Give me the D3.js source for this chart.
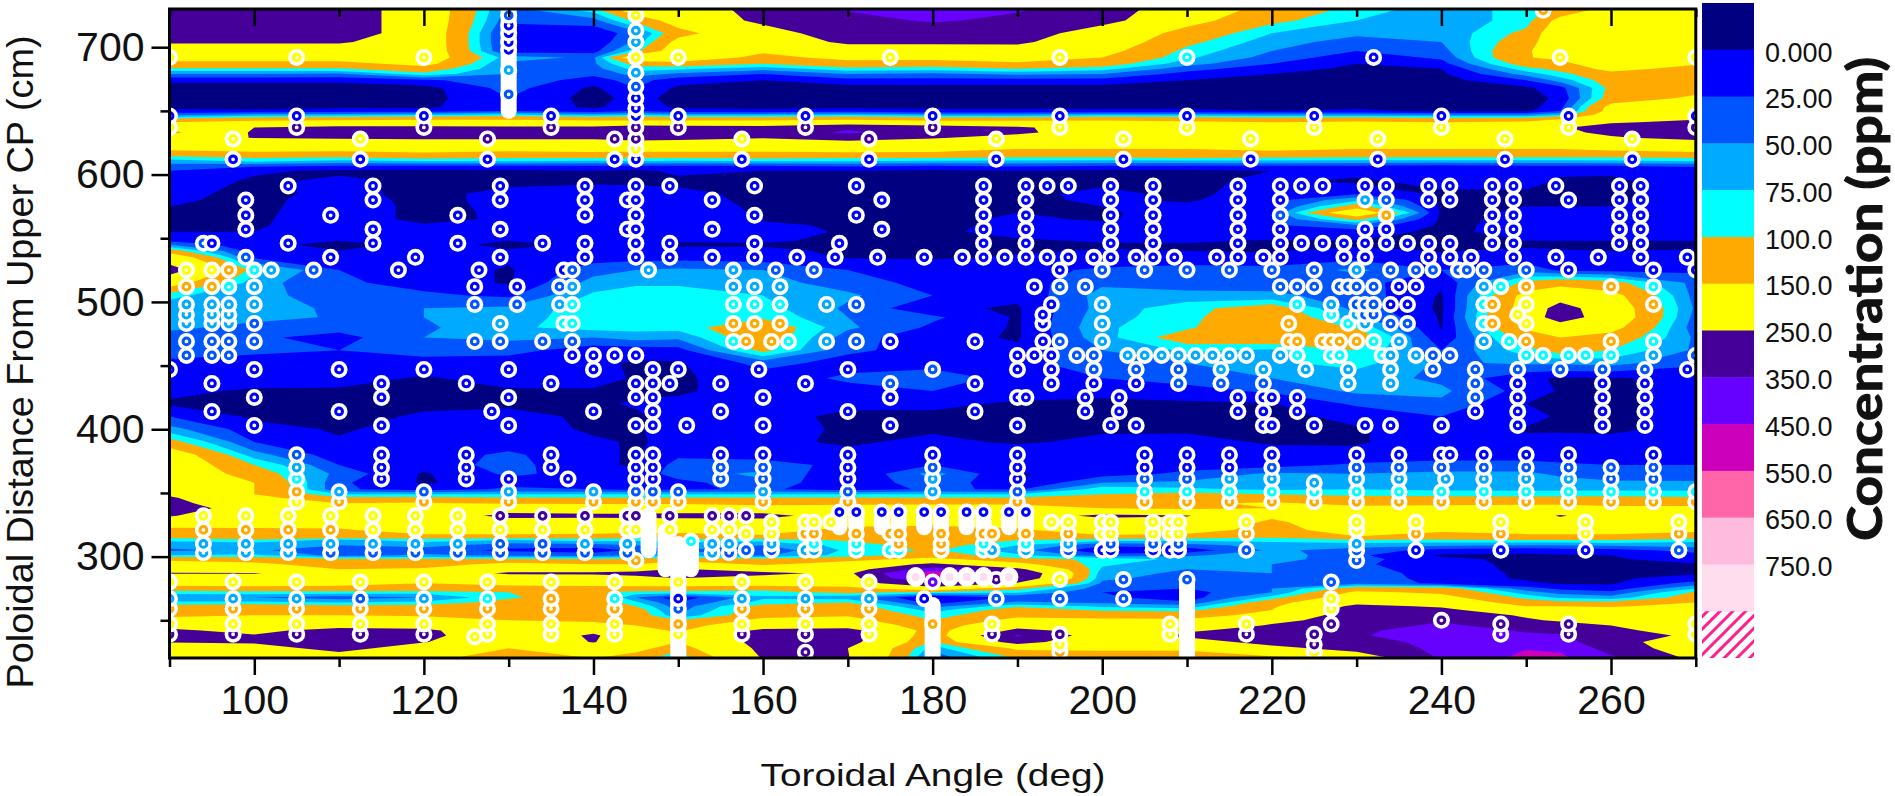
<!DOCTYPE html>
<html>
	<head>
		<meta charset="UTF-8" />
		<title>Concentration contour map</title>
		<script src="https://d3js.org/d3.v7.min.js"></script>
		<style>
			body { margin: 0; background: #fff; }
			text { font-family: "Liberation Sans", Arial, sans-serif; fill: #111; }
		</style>
	</head>
	<body>
		<svg id="chart" width="1895" height="796"></svg>
		<script type="text/javascript" charset="utf-8">
			const levels = [0, 25, 50, 75, 100, 150, 250, 350, 450, 550, 650, 750]
			const levelLabels = ['0.000', '25.00', '50.00', '75.00', '100.0', '150.0', '250.0', '350.0', '450.0', '550.0', '650.0', '750.0']
			const bandColors = ['#000080', '#0000ff', '#0055ff', '#00aaff', '#00ffff', '#ffaa00', '#ffff00', '#440099', '#6600ff', '#cc00bb', '#ff66aa', '#ffbbdd', '#ffddee']

			const xMajor = [100, 120, 140, 160, 180, 200, 220, 240, 260]
			const xMinor = [90, 110, 130, 150, 170, 190, 210, 230, 250, 270]
			const yMajor = [300, 400, 500, 600, 700]
			const yMinor = [250, 350, 450, 550, 650]

			// measured grid, ppm: one row per poloidal distance, one value per toroidal angle
			const gridAngles = [90, 100, 110, 120, 130, 140, 145, 150, 160, 170, 180, 190, 200, 210, 220, 230, 240, 250, 254, 260, 270]
			const gridDistances = [730, 721, 711, 704, 697, 692, 687, 683, 679, 674, 668, 660, 653, 650, 647, 644, 641, 637, 633, 629, 624, 620, 616, 613, 610, 607, 603,
				595, 585, 580, 575, 570, 565, 560, 555, 548, 545, 540, 535, 525, 515, 505, 495, 488, 480, 472, 462, 452, 440, 430, 420, 410, 400, 390, 380, 372, 365, 358, 353,
				349, 346, 342, 338, 332, 327, 321, 316, 313, 309, 305, 301, 298, 294, 290, 287, 283, 279, 275, 272, 268, 264, 261, 258, 254, 250, 246, 242, 238, 233, 228, 220]
			const gridValues = [
				[300,300,300,200,40,90,200,200,280,360,360,360,300,190,130,90,60,85,110,170,200],
				[300,300,300,200,30,40,110,180,270,320,360,330,280,170,110,75,60,85,170,200,210],
				[300,300,300,200,10,5,40,130,210,300,300,300,200,130,75,55,55,110,200,210,220],
				[260,260,260,200,10,5,55,170,180,270,270,265,190,110,60,40,50,125,200,210,220],
				[190,190,190,200,15,15,90,190,160,190,190,210,170,90,50,25,40,140,200,210,210],
				[180,180,180,190,60,45,200,200,130,170,170,180,150,80,40,10,30,145,170,210,190],
				[130,130,130,170,45,45,115,125,100,125,120,140,120,60,25,0,15,120,130,200,155],
				[95,95,95,125,50,40,85,80,60,90,85,100,85,35,10,-5,0,90,110,170,130],
				[50,50,45,90,50,30,60,45,25,50,45,55,50,15,0,-10,-5,60,90,130,120],
				[5,5,5,20,40,15,35,10,0,15,15,15,15,0,-10,-10,-10,25,60,120,115],
				[-10,-10,-10,-10,35,-5,25,-5,-10,-10,-10,-10,-10,-10,-10,-10,-10,-5,15,110,130],
				[-10,-10,-10,-10,25,-10,10,-10,-10,-10,-10,-10,-10,-10,-10,-10,-10,-10,5,120,160],
				[-5,-10,-5,-5,20,-5,15,-5,-5,-5,-5,-5,-5,-5,-5,-5,-10,-10,15,170,180],
				[5,5,10,10,25,10,25,10,5,10,5,5,5,5,0,5,-5,-5,25,175,200],
				[40,60,60,70,80,60,70,60,60,70,55,55,65,60,55,55,50,50,70,190,220],
				[100,120,125,130,140,130,130,130,130,130,125,120,130,125,115,120,110,115,140,210,240],
				[150,170,180,190,170,170,170,170,170,190,170,170,170,160,150,160,150,160,190,240,270],
				[160,250,270,270,270,270,300,290,285,340,300,260,210,200,195,200,200,210,240,290,340],
				[130,260,280,290,300,320,340,350,310,360,320,270,190,190,190,195,195,205,230,270,330],
				[180,255,260,270,270,270,300,280,260,300,260,210,200,190,180,190,190,190,210,240,280],
				[170,190,200,190,190,190,190,200,170,200,190,170,170,170,170,175,170,170,175,190,200],
				[160,170,170,170,165,170,170,170,165,175,170,150,150,150,160,150,150,150,150,160,170],
				[120,130,125,140,130,135,130,130,135,135,135,120,125,130,130,120,120,125,125,125,135],
				[85,100,95,105,100,100,100,100,105,100,100,95,95,100,95,95,95,95,95,95,100],
				[60,75,60,70,70,65,70,65,70,70,65,65,60,60,65,60,60,60,60,65,70],
				[40,30,25,25,25,25,25,25,25,30,25,30,25,25,25,25,20,25,25,25,30],
				[25,5,-5,-5,-5,0,-5,5,0,0,-5,0,-5,-5,0,10,10,5,5,5,10],
				[20,-5,5,-5,-5,-2,-5,-5,-5,-5,-5,-5,-5,-5,5,-5,10,10,-3,-5,15],
				[5,-5,5,-5,5,5,10,5,-5,-5,-5,-5,5,-5,10,20,-5,-5,-5,-5,10],
				[3,-5,8,-5,5,6,10,6,-4,-4,-5,-4,3,-3,15,70,-5,-4,-4,-4,10],
				[0,-5,10,-5,4,7,12,8,-3,-3,-5,-2,0,5,20,120,-5,0,0,0,10],
				[0,-4,10,-5,3,8,12,9,-2,-3,-5,0,-2,6,25,210,-5,3,5,3,10],
				[-5,-3,10,-5,3,8,12,10,-2,-3,-5,3,-2,8,25,110,-5,5,8,5,10],
				[-3,-2,9,2,4,9,14,11,4,-3,-5,5,4,10,20,45,-5,7,7,5,8],
				[0,0,8,5,5,10,15,12,10,-3,-5,8,10,12,15,10,-5,8,5,5,5],
				[20,3,0,5,0,5,8,2,2,-3,-5,-3,2,3,-2,0,-5,0,0,0,0],
				[50,5,-5,5,-3,3,5,-3,-2,-3,-5,-5,-2,-2,-5,-3,-5,-3,-3,-3,-3],
				[120,10,0,6,1,8,10,6,4,-3,-4,-2,1,0,-1,5,-1,3,1,0,1],
				[200,20,8,8,5,12,15,15,10,-2,-3,2,5,3,3,15,3,10,5,0,5],
				[290,85,25,15,-3,40,50,55,50,25,15,15,30,40,35,55,25,40,20,15,20],
				[180,60,30,15,-3,60,70,70,60,38,15,12,45,35,40,35,5,110,130,115,40],
				[80,60,35,30,20,80,90,90,75,55,25,5,60,60,55,40,-3,170,200,170,40],
				[65,62,45,50,55,92,95,95,85,45,5,-3,60,90,120,40,-5,180,290,190,45],
				[70,65,45,50,60,92,95,97,95,50,30,-3,65,90,140,55,-3,190,300,195,40],
				[60,35,35,45,70,85,85,85,130,55,20,-3,70,95,140,95,-2,160,200,170,35],
				[30,30,15,50,55,50,60,55,130,35,10,-3,65,120,130,130,5,120,150,130,45],
				[40,30,25,35,35,10,12,15,110,30,15,5,50,80,70,100,25,90,115,100,45],
				[18,15,15,15,10,5,-3,-3,35,15,15,15,45,50,70,85,45,55,55,60,30],
				[10,10,10,-3,10,10,-3,-3,10,30,40,15,25,35,50,60,45,5,-3,-3,8],
				[5,-3,-4,-4,-3,-3,-3,-3,10,15,25,10,5,15,30,55,55,15,-3,-3,5],
				[-3,-4,-5,-3,-3,-3,2,5,5,5,5,-3,-4,-4,-2,30,45,0,-4,-4,5],
				[25,-5,-5,2,5,-3,-3,8,8,-5,-5,-5,-5,-5,-5,5,25,8,-3,-5,8],
				[60,10,-3,10,10,-3,-2,8,8,-3,-3,-3,-3,-4,-4,-2,12,-2,-3,-3,5],
				[115,25,3,15,12,3,-2,5,5,-3,5,-3,5,8,-3,-2,10,5,8,5,12],
				[190,60,10,12,30,5,-3,20,15,5,18,15,15,12,10,5,12,12,10,10,12],
				[200,100,25,10,35,3,-2,35,35,18,25,20,10,15,15,30,35,35,30,25,25],
				[200,125,40,-3,30,15,5,40,55,-3,60,-3,15,30,55,50,55,55,45,35,30],
				[210,150,30,-3,15,15,10,15,45,0,45,0,50,55,60,60,60,60,60,55,55],
				[210,150,30,10,30,25,15,20,30,10,30,20,90,80,70,75,70,70,70,70,70],
				[240,150,75,75,75,75,75,75,75,75,75,75,100,110,100,90,90,85,85,90,85],
				[260,170,110,110,105,105,105,105,105,105,105,105,125,130,125,115,110,110,110,110,105],
				[270,200,150,155,140,140,140,140,130,130,140,140,140,145,155,140,140,140,140,130,130],
				[280,220,200,210,210,200,200,200,180,190,180,180,150,140,150,160,165,170,170,165,165],
				[255,200,215,190,275,270,270,275,285,190,180,200,270,255,160,255,190,190,260,190,185],
				[210,200,200,190,200,200,210,210,200,180,170,190,200,200,140,190,170,185,190,185,180],
				[125,135,140,190,190,180,170,170,180,130,125,140,190,180,125,185,160,170,170,170,160],
				[115,150,130,130,130,130,125,130,140,120,115,130,140,130,110,150,130,140,140,140,130],
				[80,90,70,85,75,85,80,90,85,105,120,100,85,80,85,95,95,100,100,100,85],
				[60,60,50,60,35,40,50,60,50,85,115,75,30,40,60,60,55,50,50,55,60],
				[45,55,30,35,20,10,30,50,30,80,105,60,5,10,55,40,15,10,15,15,35],
				[75,80,40,55,45,40,50,70,45,85,120,80,35,45,65,30,-3,-5,-3,0,15],
				[130,130,110,105,105,105,110,120,110,130,170,110,95,65,60,35,5,-5,-3,-3,10],
				[190,160,130,120,170,150,150,190,140,180,270,170,80,55,50,30,8,-5,-5,-5,-2],
				[200,190,150,160,210,200,210,260,200,200,400,270,70,50,50,35,10,-5,-5,-5,-3],
				[255,255,200,175,265,265,285,360,270,230,520,330,60,45,50,40,12,-4,-4,-4,-3],
				[210,210,190,165,200,210,215,250,220,210,480,320,55,40,45,40,15,-4,-4,-4,10],
				[170,180,170,150,170,180,180,190,185,190,350,240,45,30,40,45,18,5,-3,-3,35],
				[125,125,125,130,120,120,125,120,110,130,200,110,35,25,50,120,120,35,20,10,75],
				[85,90,90,85,100,105,90,90,90,110,90,80,25,15,50,160,140,60,40,30,105],
				[55,50,35,50,95,125,50,10,70,60,-3,30,30,10,85,190,170,90,70,60,120],
				[80,80,75,80,115,130,80,25,85,100,15,55,45,30,125,230,200,120,110,110,150],
				[115,125,110,115,130,135,100,35,115,125,40,95,70,60,140,270,240,150,150,145,165],
				[130,135,130,130,135,140,120,40,125,130,65,120,95,90,150,290,270,190,180,170,180],
				[140,150,150,145,140,145,125,55,130,145,85,135,130,125,170,300,300,240,220,200,190],
				[170,170,165,170,150,140,140,100,165,170,100,170,160,160,220,300,340,260,240,210,200],
				[225,230,220,215,170,170,150,125,200,210,110,220,180,175,260,300,370,300,280,250,210],
				[262,230,280,270,170,230,180,140,270,280,120,270,220,240,280,330,400,340,310,270,210],
				[275,255,300,275,180,262,190,160,290,290,110,360,190,270,300,340,400,365,365,300,230],
				[255,265,300,255,170,255,180,150,280,280,95,290,170,200,290,310,380,400,390,280,200],
				[200,200,290,190,150,190,170,120,270,250,60,160,160,170,220,290,370,445,430,310,190],
				[170,170,180,170,110,150,120,60,255,255,30,100,120,90,130,170,360,480,475,370,230]
			]

			// sample positions: one list of toroidal angles per poloidal distance
			const bandAngles = [90, 105, 120, 135, 145, 150, 165, 180, 195, 210, 225, 240, 255, 270]
			const offsetAngles = [97.5, 112.5, 127.5, 142.5, 145, 157.5, 172.5, 187.5, 202.5, 217.5, 232.5, 247.5, 262.5]
			const lowAngles = [90, 97.5, 105, 112.5, 120, 127.5, 135, 142.5, 150, 157.5, 165, 172.5]
			const fiveAngles = [94, 99, 104, 109, 114, 119, 124, 129, 134, 139, 144, 154, 156]
			const sampleDistances = [729, 725, 717, 713, 711, 704, 698, 692, 682, 680, 669, 663, 660, 652, 646, 637, 628, 620, 612,
				591, 580, 568, 557, 546, 535, 525, 512, 498, 490, 483, 469, 458, 447, 436, 425, 414, 403, 380, 370, 361, 358, 351, 343, 335,
				332, 327, 321, 318, 312, 310, 305, 303, 297, 282, 280, 267, 259, 250, 247, 239, 237, 231, 225]
			const sampleAngles = [
				[252], [130, 145], [130], [145], [130], [130, 145], [130],
				[90, 105, 120, 145, 150, 175, 195, 210, 232, 254, 270],
				[130], [145], [145], [130], [145], [145],
				bandAngles, bandAngles, offsetAngles, [145], offsetAngles,
				[104, 114, 129, 139, 145, 149, 159, 171, 186, 191, 193.5, 196, 201, 206, 216, 221, 223.5, 226, 231, 233.5, 238.5, 241, 246, 248.5, 253.5, 261, 263.5],
				[99, 114, 129, 139, 144, 145, 154, 174, 186, 191, 201, 206, 216, 221, 231, 233.5, 238.5, 241, 246, 248.5, 255, 261, 263.5],
				[99, 109, 124, 139, 145, 159, 171, 186, 191, 201, 206, 216, 221, 233.5, 246, 248.5, 261, 263.5],
				[99, 114, 129, 144, 145, 154, 174, 186, 191, 201, 206, 216, 221, 231, 233.5, 246, 248.5, 261, 263.5],
				[94, 95, 104, 114, 124, 134, 139, 145, 149, 159, 169, 186, 191, 201, 206, 216, 221, 223.5, 226, 228.5, 231, 233.5, 236, 238.5, 241, 246, 248.5, 261, 263.5],
				[99, 109, 119, 129, 139, 145, 149, 154, 159, 164, 168.5, 173.5, 179, 183.5, 186, 188.5, 191, 193.5, 196, 199, 201, 204, 206, 208.5, 213.5, 216, 219, 221, 228.5, 231, 238.5, 241, 243.5, 248.5, 253.5, 258.5, 263.5, 269],
				[92, 95, 97, 100, 102, 107, 117, 126.5, 136.5, 137.5, 146.5, 156.5, 161.5, 166, 195, 200, 205, 210, 215, 220, 225, 230, 234, 237, 239, 242, 243, 245, 250, 255, 265, 270],
				[92, 95, 97, 100, 126, 131, 136, 137.5, 156.5, 159, 162, 192, 195, 198, 221, 223, 225, 228, 229, 230, 232, 235, 237, 245, 247, 250, 260, 265],
				[92, 95, 97, 100, 126, 131, 136, 137.5, 156.5, 159, 162, 167.5, 171, 194, 200, 223, 227, 230, 231, 232, 234, 236, 245, 246, 250, 265],
				[92, 95, 97, 193, 227, 230, 231, 232, 249],
				[92, 95, 97, 100, 129, 136.5, 137.5, 156.5, 159, 162, 193, 200, 222, 229, 231, 234, 236, 245, 246, 250],
				[92, 95, 97, 100, 126, 129, 134, 137.5, 156.5, 158, 161, 163, 167.5, 171, 175, 185, 193, 195, 200, 222, 223, 226, 227, 228, 230, 232, 235, 245, 248, 250, 260, 265],
				[92, 95, 97, 137.5, 140, 142.5, 145, 190, 192, 194, 197, 199, 203, 205, 207, 209, 211, 213, 215, 217, 221, 223, 227, 228, 233, 234, 237, 239, 241, 250, 252, 255, 257, 260, 265, 270],
				[90, 100, 110, 120, 130, 140, 147, 150, 159.5, 170, 180, 190, 194, 199, 204, 209, 214, 219, 224, 229, 234, 239, 244, 249, 254, 259, 264, 269],
				[95, 115, 125, 135, 145, 147, 149, 155, 165, 175, 185, 194, 199, 204, 209, 214, 219, 229, 234, 244, 249, 259, 264],
				[100, 115, 130, 145, 147, 160, 175, 190, 191, 198, 202, 216, 219, 220, 223, 244, 249, 259, 264],
				[95, 110, 128, 140, 147, 155, 170, 185, 198, 202, 216, 219, 223, 244, 249, 259, 264],
				[100, 115, 130, 145, 147, 151, 160, 175, 190, 201, 204, 219, 220, 225, 231, 234, 240, 249, 259, 264],
				[105, 115, 125, 135, 145, 147, 155, 160, 170, 180, 190, 205, 210, 215, 220, 230, 235, 240, 241, 245, 250, 255, 265],
				[105, 115, 125, 135, 145, 147, 155, 160, 170, 180, 190, 205, 210, 215, 220, 230, 235, 240, 245, 250, 255, 260, 265],
				[105, 115, 125, 130, 137, 145, 147, 155, 160, 170, 180, 190, 205, 210, 215, 220, 230, 235, 240.5, 245, 250, 255, 260, 265],
				[225],
				[105, 110, 120, 130, 140, 145, 147, 150, 160, 170, 180, 190, 205, 210, 215, 220, 225, 230, 235, 240, 245, 250, 255, 260, 265, 270],
				[105, 110, 120, 130, 140, 145, 147, 150, 160, 170, 190, 205, 210, 215, 220, 225, 230, 235, 240, 245, 250, 255, 260, 265, 270],
				[169, 171, 174, 176, 179, 181, 184, 186, 189, 191],
				[94, 99, 104, 109, 114, 119, 124, 129, 134, 139, 144, 145, 149, 154, 156, 158],
				[161, 165, 166, 168, 194, 196, 200, 201, 206, 208, 209, 217, 230, 237, 247, 257, 268],
				[94, 99, 104, 109, 114, 119, 124, 129, 134, 139, 144, 145, 149, 154, 156, 230],
				[158, 161, 165, 166, 171, 175, 176, 181, 186, 187, 191, 196, 200, 201, 206, 208, 209, 217, 237, 247, 257, 268],
				[151.5],
				[...fiveAngles, 161, 166, 171, 176, 181, 186, 191, 196, 201, 206, 209, 230],
				[158, 161, 165, 166, 171, 175, 176, 181, 186, 187, 191, 196, 200, 201, 206, 208, 209, 217, 230, 237, 247, 257, 268],
				fiveAngles,
				[145, 230],
				[187.5, 195, 202.5, 210],
				[...lowAngles, 180, 227],
				[...lowAngles, 179, 187.5, 195, 202.5, 227],
				[...lowAngles, 227],
				[240],
				[...lowAngles, 180, 187, 208, 217, 227, 247, 255, 270],
				[...lowAngles, 187, 195, 208, 217, 225, 247, 255, 270],
				[126],
				[195, 225],
				[165, 195, 225]
			]
			// rows where the sampled value differs from the contoured field
			const fixedRowDistances = [646, 612, 335]
			const fixedRowValues = [12, 20, 12]

			const paleAngles = [178, 182, 184, 186, 189]
			const paleDistance = 284
			const paleValue = 760

			// stacks of samples so tight that only their white halos show: angle, from, to
			const stackAngles = [130, 150, 148.5, 151.5, 146.5, 210, 180, 169, 171, 174, 176, 179, 181, 184, 186, 189, 191]
			const stackFrom = [650, 220, 290, 290, 305, 220, 222, 323, 323, 323, 323, 323, 323, 323, 323, 323, 323]
			const stackTo = [730, 310, 320, 312, 332, 282, 262, 335, 335, 335, 335, 335, 335, 335, 335, 335, 335]

			const plotLeft = 169.5, plotRight = 1695.8, plotTop = 9, plotBottom = 658
			const x = d3.scaleLinear().domain([90, 270]).range([plotLeft, plotRight])
			const y = d3.scaleLinear().domain([220.4, 730]).range([plotBottom, plotTop])
			const color = d3.scaleThreshold().domain(levels).range(bandColors)

			const svg = d3.select('#chart')
			const defs = svg.append('defs')
			defs.append('clipPath').attr('id', 'plot-clip').append('rect')
				.attr('x', plotLeft).attr('y', plotTop).attr('width', plotRight - plotLeft).attr('height', plotBottom - plotTop)
			const hatch = defs.append('pattern').attr('id', 'hatch').attr('patternUnits', 'userSpaceOnUse')
				.attr('width', 9).attr('height', 9).attr('patternTransform', 'rotate(45)')
			hatch.append('rect').attr('width', 3).attr('height', 9).attr('fill', '#ff1f8f')

			// contours are computed on grid indices, then mapped through the uneven grid spacing
			const nx = gridAngles.length, ny = gridDistances.length
			const indexToAngle = d3.scaleLinear().domain(d3.range(nx)).range(gridAngles).clamp(true)
			const indexToDistance = d3.scaleLinear().domain(d3.range(ny)).range(gridDistances).clamp(true)
			const contours = d3.contours().size([nx, ny]).thresholds(levels)(gridValues.flat())
			const path = d3.geoPath(d3.geoTransform({
				point: function(px, py) {
					this.stream.point(x(indexToAngle(px - 0.5)), y(indexToDistance(py - 0.5)))
				}
			}))

			const plot = svg.append('g').attr('clip-path', 'url(#plot-clip)')
			plot.append('rect').attr('x', plotLeft).attr('y', plotTop).attr('width', plotRight - plotLeft).attr('height', plotBottom - plotTop)
				.attr('fill', bandColors[0])
			plot.selectAll('path.band').data(contours).join('path')
				.attr('class', 'band')
				.attr('d', path)
				.attr('fill', d => color(d.value))

			function fieldValue(angle, distance) {
				const i = Math.min(d3.bisectRight(gridAngles, angle), nx - 1)
				const j = Math.min(d3.bisector(d => -d).right(gridDistances, -distance), ny - 1)
				const i0 = Math.max(i - 1, 0), j0 = Math.max(j - 1, 0)
				const tx = i === i0 ? 0 : (angle - gridAngles[i0]) / (gridAngles[i] - gridAngles[i0])
				const ty = j === j0 ? 0 : (gridDistances[j0] - distance) / (gridDistances[j0] - gridDistances[j])
				const a = gridValues[j0][i0] * (1 - tx) + gridValues[j0][i] * tx
				const b = gridValues[j][i0] * (1 - tx) + gridValues[j][i] * tx
				return a * (1 - ty) + b * ty
			}

			plot.selectAll('line.stack').data(stackAngles).join('line')
				.attr('class', 'stack')
				.attr('x1', d => x(d)).attr('x2', d => x(d))
				.attr('y1', (d, i) => y(stackFrom[i])).attr('y2', (d, i) => y(stackTo[i]))
				.attr('stroke', '#fff').attr('stroke-width', 16).attr('stroke-linecap', 'round')

			// lower rows first, the upper sample of a pair sits on top
			const samples = []
			sampleDistances.forEach((distance, i) => {
				sampleAngles[i].forEach(angle => {
					const fixed = fixedRowDistances.indexOf(distance)
					const value = fixed >= 0 ? fixedRowValues[fixed] : Math.max(fieldValue(angle, distance), 12)
					samples.push({angle, distance, value})
				})
			})
			samples.sort((a, b) => a.distance - b.distance)

			const marks = plot.selectAll('g.sample').data(samples).join('g')
				.attr('class', 'sample')
				.attr('transform', d => `translate(${x(d.angle)},${y(d.distance)})`)
			marks.append('circle').attr('r', 8.5).attr('fill', '#fff')
			marks.append('circle').attr('r', 3.4).attr('fill', '#fff')
				.attr('stroke', d => color(d.value)).attr('stroke-width', 3)

			plot.selectAll('ellipse.pale').data(paleAngles).join('ellipse')
				.attr('class', 'pale')
				.attr('cx', d => x(d)).attr('cy', y(paleDistance))
				.attr('rx', 9).attr('ry', 9.5)
				.attr('fill', '#fff').attr('stroke', '#fff')
			plot.selectAll('circle.pale-core').data(paleAngles).join('circle')
				.attr('class', 'pale-core')
				.attr('cx', d => x(d)).attr('cy', y(paleDistance))
				.attr('r', 4).attr('fill', color(paleValue))

			// axes
			function styleAxis(g, size) {
				g.selectAll('.domain').remove()
				g.selectAll('.tick line').attr('stroke', '#000').attr('stroke-width', 2.5)
				g.selectAll('.tick text').attr('font-size', size).attr('fill', '#111')
					.attr('font-family', '"Liberation Sans", Arial, sans-serif')
			}
			svg.append('g').attr('transform', `translate(0,${plotBottom})`)
				.call(d3.axisBottom(x).tickValues(xMajor).tickFormat(d3.format('d')).tickSize(17).tickPadding(10))
				.call(g => styleAxis(g, 41))
			svg.append('g').attr('transform', `translate(0,${plotBottom})`)
				.call(d3.axisBottom(x).tickValues(xMinor).tickFormat('').tickSize(9))
				.call(g => styleAxis(g, 41))
			svg.append('g').attr('transform', `translate(0,${plotTop})`)
				.call(d3.axisTop(x).tickValues(xMajor).tickFormat('').tickSize(-17))
				.call(g => styleAxis(g, 41))
			svg.append('g').attr('transform', `translate(0,${plotTop})`)
				.call(d3.axisTop(x).tickValues(xMinor).tickFormat('').tickSize(-8))
				.call(g => styleAxis(g, 41))
			svg.append('g').attr('transform', `translate(${plotLeft},0)`)
				.call(d3.axisLeft(y).tickValues(yMajor).tickFormat(d3.format('d')).tickSize(18).tickPadding(7))
				.call(g => styleAxis(g, 41))
			svg.append('g').attr('transform', `translate(${plotLeft},0)`)
				.call(d3.axisLeft(y).tickValues(yMinor).tickFormat('').tickSize(9))
				.call(g => styleAxis(g, 41))
			svg.append('rect').attr('x', plotLeft).attr('y', plotTop).attr('width', plotRight - plotLeft).attr('height', plotBottom - plotTop)
				.attr('fill', 'none').attr('stroke', '#000').attr('stroke-width', 3)

			svg.append('text').attr('x', 933).attr('y', 786).attr('text-anchor', 'middle')
				.attr('font-size', 32).attr('textLength', 345).attr('lengthAdjust', 'spacingAndGlyphs')
				.text('Toroidal Angle (deg)')
			svg.append('text').attr('transform', 'translate(33,362) rotate(-90)').attr('text-anchor', 'middle')
				.attr('font-size', 36).attr('textLength', 653).attr('lengthAdjust', 'spacingAndGlyphs')
				.text('Poloidal Distance From Upper CP (cm)')

			// colour legend
			const legendBand = d3.scaleLinear().domain([0, 14]).range([3, 658])
			const legendLeft = 1702, legendWidth = 52
			svg.append('g').selectAll('rect').data(bandColors).join('rect')
				.attr('x', legendLeft).attr('width', legendWidth)
				.attr('y', (d, i) => legendBand(i)).attr('height', legendBand(1) - legendBand(0) + 0.5)
				.attr('fill', d => d)
			svg.append('rect').attr('x', legendLeft).attr('width', legendWidth)
				.attr('y', legendBand(13)).attr('height', legendBand(1) - legendBand(0))
				.attr('fill', 'url(#hatch)')
			svg.append('g').selectAll('text').data(levelLabels).join('text')
				.attr('x', 1765).attr('y', (d, i) => legendBand(i + 1) + 2)
				.attr('dy', '0.36em').attr('font-size', 27)
				.text(d => d)
			svg.append('text').attr('transform', 'translate(1882,299) rotate(-90)').attr('text-anchor', 'middle')
				.style('font-family', 'Lato, "Open Sans", sans-serif').attr('font-weight', 700)
				.attr('stroke', '#111').attr('stroke-width', 1)
				.attr('font-size', 47).attr('textLength', 484).attr('lengthAdjust', 'spacingAndGlyphs')
				.text('Concentration (ppm)')
		</script>
	</body>
</html>
